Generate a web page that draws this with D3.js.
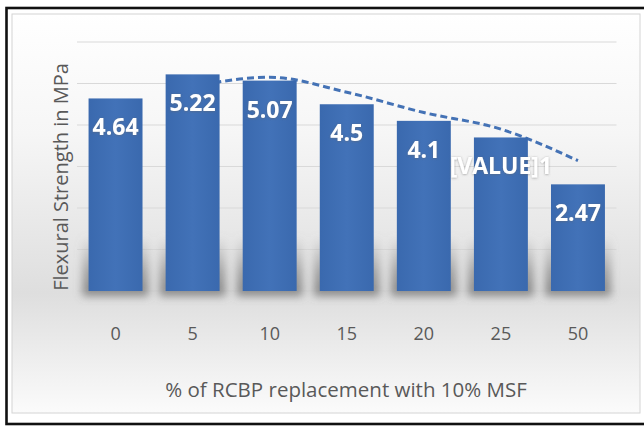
<!DOCTYPE html>
<html>
<head>
<meta charset="utf-8">
<script src="https://cdn.jsdelivr.net/npm/d3@7"></script>
<style>
  body { margin: 0; background: #fff; }
  svg { display: block; font-family: "Open Sans", sans-serif; }
</style>
</head>
<body>
<svg id="chart" width="644" height="428"></svg>
<script>
// data
const categories = ["0", "5", "10", "15", "20", "25", "50"];
const strength = [4.64, 5.22, 5.07, 4.5, 4.1, 3.7, 2.57];
const valueLabels = ["4.64", "5.22", "5.07", "4.5", "4.1", "[VALUE]1", "2.47"];
// dashed trendline (2-period moving average), starts at "5"
const trendCats = ["5", "10", "15", "20", "25", "50"];
const trendValues = [4.93, 5.15, 4.79, 4.3, 3.9, 3.14];
const yTicks = [0, 1, 2, 3, 4, 5, 6];

const svg = d3.select("#chart");
const margin = { top: 42, bottom: 291, left: 77, right: 616.5 };
const textColor = "#595959";

const defs = svg.append("defs");

const bg = defs.append("linearGradient")
  .attr("id", "bg").attr("x1", 0).attr("y1", 0).attr("x2", 0).attr("y2", 1);
bg.append("stop").attr("offset", "0%").attr("stop-color", "#ffffff");
bg.append("stop").attr("offset", "30%").attr("stop-color", "#f6f6f6");
bg.append("stop").attr("offset", "70%").attr("stop-color", "#dedede");
bg.append("stop").attr("offset", "100%").attr("stop-color", "#fbfbfb");

const barGrad = defs.append("linearGradient")
  .attr("id", "barGrad").attr("x1", 0).attr("y1", 0).attr("x2", 1).attr("y2", 0);
barGrad.append("stop").attr("offset", "0%").attr("stop-color", "#3a69ae");
barGrad.append("stop").attr("offset", "50%").attr("stop-color", "#4272b8");
barGrad.append("stop").attr("offset", "100%").attr("stop-color", "#3a69ae");

const shadowGrad = defs.append("linearGradient")
  .attr("id", "shadowGrad").attr("x1", 0).attr("y1", 0).attr("x2", 0).attr("y2", 1);
shadowGrad.append("stop").attr("offset", "0%").attr("stop-color", "#888").attr("stop-opacity", 0);
shadowGrad.append("stop").attr("offset", "60%").attr("stop-color", "#777").attr("stop-opacity", 0.6);
shadowGrad.append("stop").attr("offset", "100%").attr("stop-color", "#666").attr("stop-opacity", 0.75);

defs.append("filter").attr("id", "blur")
  .attr("x", "-50%").attr("y", "-50%").attr("width", "200%").attr("height", "200%")
  .append("feGaussianBlur").attr("stdDeviation", 4);

defs.append("filter").attr("id", "soft")
  .attr("x", "-20%").attr("y", "-20%").attr("width", "140%").attr("height", "140%")
  .append("feDropShadow")
  .attr("dx", 0).attr("dy", 0.5).attr("stdDeviation", 0.8)
  .attr("flood-color", "#666").attr("flood-opacity", 0.6);

// frame
svg.append("rect")
  .attr("x", 12).attr("y", 14).attr("width", 628).attr("height", 399)
  .attr("fill", "url(#bg)").attr("stroke", "#d4d4d4");
svg.append("rect")
  .attr("x", 6.5).attr("y", 8).attr("width", 660).attr("height", 416)
  .attr("fill", "none").attr("stroke", "#111").attr("stroke-width", 2.6);

const x = d3.scaleBand()
  .domain(categories)
  .range([margin.left, margin.right])
  .paddingInner(0.3)
  .paddingOuter(0.15);

const y = d3.scaleLinear()
  .domain([0, 6])
  .range([margin.bottom, margin.top]);

// gridlines
svg.append("g")
  .selectAll("line")
  .data(yTicks)
  .join("line")
  .attr("x1", margin.left).attr("x2", margin.right)
  .attr("y1", d => y(d)).attr("y2", d => y(d))
  .attr("stroke", "#d9d9d9").attr("stroke-width", 1);

// soft shadows at the foot of the bars
svg.append("g")
  .attr("filter", "url(#blur)")
  .selectAll("rect")
  .data(strength)
  .join("rect")
  .attr("x", (d, i) => x(categories[i]) - 6)
  .attr("width", x.bandwidth() + 12)
  .attr("y", y(0) - 55)
  .attr("height", 60)
  .attr("fill", "url(#shadowGrad)");

// trendline (behind bars)
const line = d3.line()
  .x((d, i) => x(trendCats[i]) + x.bandwidth() / 2)
  .y(d => y(d))
  .curve(d3.curveMonotoneX);

svg.append("path")
  .datum(trendValues)
  .attr("d", line)
  .attr("fill", "none")
  .attr("stroke", "#4472b5")
  .attr("stroke-width", 3)
  .attr("stroke-dasharray", "7,4");

// bars
svg.append("g")
  .selectAll(".bar")
  .data(strength)
  .join("rect")
  .attr("class", "bar")
  .attr("x", (d, i) => x(categories[i]))
  .attr("width", x.bandwidth())
  .attr("y", d => y(d))
  .attr("height", d => y(0) - y(d))
  .attr("fill", "url(#barGrad)");

// value labels
svg.append("g")
  .attr("filter", "url(#soft)")
  .selectAll("text")
  .data(strength)
  .join("text")
  .attr("x", (d, i) => x(categories[i]) + x.bandwidth() / 2)
  .attr("y", d => y(d) + 37)
  .attr("text-anchor", "middle")
  .attr("fill", "#fff")
  .attr("font-weight", "bold")
  .attr("font-size", 23)
  .text((d, i) => valueLabels[i]);

// x axis
const xAxis = svg.append("g")
  .attr("transform", `translate(0,${y(0)})`)
  .call(d3.axisBottom(x).tickSize(0).tickPadding(36));
xAxis.select(".domain").remove();
xAxis.selectAll(".tick text")
  .attr("font-family", "Open Sans, sans-serif")
  .attr("font-size", 18)
  .attr("fill", textColor);

// axis titles
svg.append("text")
  .attr("x", 346).attr("y", 397)
  .attr("text-anchor", "middle")
  .attr("font-size", 20.5)
  .attr("fill", textColor)
  .text("% of RCBP replacement with 10% MSF");

svg.append("text")
  .attr("transform", "translate(68,177) rotate(-90)")
  .attr("text-anchor", "middle")
  .attr("font-size", 20)
  .attr("fill", textColor)
  .text("Flexural Strength in MPa");
</script>
</body>
</html>
